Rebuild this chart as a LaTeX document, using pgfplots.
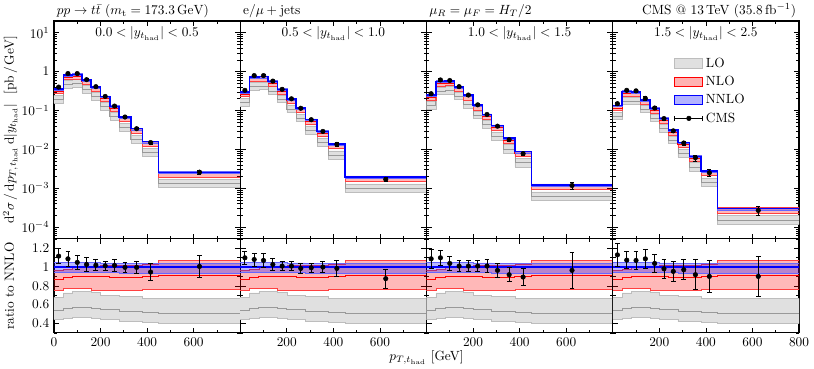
\documentclass[border=0pt]{standalone}
\usepackage{pgfplots}
\pgfplotsset{compat=1.18}
\usepackage{pgfplotstable}

\definecolor{lofill}{gray}{0.88}
\definecolor{loedge}{gray}{0.74}
\definecolor{loline}{gray}{0.6}

\pgfplotsset{every axis/.append style={scale only axis, width=139.75pt,
    xmin=0, xmax=800,
    xtick={0,200,400,600,800}, minor xtick={100,300,500,700},
    tick align=inside,
    major tick length=4pt, minor tick length=2.2pt,
    tick style={black, line width=0.5pt},
    axis line style={line width=0.8pt},
    anchor=south west}}

% band outlines: upper edge forward, lower edge backward.
% n1..n4 = NNLO central value of the bin (one per |y| slice); lo, nl, nn = band edge as ratio to NNLO
\pgfplotstableread{
x    n1      n2      n3      n4      lo    nl    nn
0    0.358   0.300   0.248   0.133   0.68  0.97  1.05
40   0.358   0.300   0.248   0.133   0.68  0.97  1.05
40   0.818   0.731   0.555   0.307   0.725 0.98  1.05
80   0.818   0.731   0.555   0.307   0.725 0.98  1.05
80   0.848   0.738   0.568   0.299   0.74  1.00  1.05
120  0.848   0.738   0.568   0.299   0.74  1.00  1.05
120  0.603   0.554   0.406   0.188   0.74  1.00  1.05
160  0.603   0.554   0.406   0.188   0.74  1.00  1.05
160  0.402   0.346   0.247   0.112   0.73  1.00  1.05
200  0.402   0.346   0.247   0.112   0.73  1.00  1.05
200  0.227   0.198   0.138   0.0631  0.70  1.015 1.045
240  0.227   0.198   0.138   0.0631  0.70  1.015 1.045
240  0.128   0.116   0.0781  0.0314  0.70  1.015 1.045
280  0.128   0.116   0.0781  0.0314  0.70  1.015 1.045
280  0.0682  0.0584  0.0409  0.0150  0.685 1.02  1.04
330  0.0682  0.0584  0.0409  0.0150  0.685 1.02  1.04
330  0.0341  0.0290  0.0194  0.00664 0.685 1.02  1.04
380  0.0341  0.0290  0.0194  0.00664 0.685 1.02  1.04
380  0.0158  0.0137  0.00872 0.00277 0.665 1.035 1.04
450  0.0158  0.0137  0.00872 0.00277 0.665 1.035 1.04
450  0.00258 0.00194 0.00122 0.00030 0.665 1.07  1.04
800  0.00258 0.00194 0.00122 0.00030 0.665 1.07  1.04
800  0.00258 0.00194 0.00122 0.00030 0.40  0.765 0.93
450  0.00258 0.00194 0.00122 0.00030 0.40  0.765 0.93
450  0.0158  0.0137  0.00872 0.00277 0.41  0.76  0.935
380  0.0158  0.0137  0.00872 0.00277 0.41  0.76  0.935
380  0.0341  0.0290  0.0194  0.00664 0.42  0.755 0.935
330  0.0341  0.0290  0.0194  0.00664 0.42  0.755 0.935
330  0.0682  0.0584  0.0409  0.0150  0.42  0.755 0.935
280  0.0682  0.0584  0.0409  0.0150  0.42  0.755 0.935
280  0.128   0.116   0.0781  0.0314  0.445 0.755 0.94
240  0.128   0.116   0.0781  0.0314  0.445 0.755 0.94
240  0.227   0.198   0.138   0.0631  0.445 0.755 0.94
200  0.227   0.198   0.138   0.0631  0.445 0.755 0.94
200  0.402   0.346   0.247   0.112   0.46  0.755 0.94
160  0.402   0.346   0.247   0.112   0.46  0.755 0.94
160  0.603   0.554   0.406   0.188   0.47  0.77  0.94
120  0.603   0.554   0.406   0.188   0.47  0.77  0.94
120  0.848   0.738   0.568   0.299   0.47  0.77  0.94
80   0.848   0.738   0.568   0.299   0.47  0.77  0.94
80   0.818   0.731   0.555   0.307   0.46  0.77  0.94
40   0.818   0.731   0.555   0.307   0.46  0.77  0.94
40   0.358   0.300   0.248   0.133   0.44  0.755 0.94
0    0.358   0.300   0.248   0.133   0.44  0.755 0.94
}\outl

% central lines: bin left edges, NNLO value per slice, NLO and LO central as ratio to NNLO
\pgfplotstableread{
x    n1      n2      n3      n4      nloc  loc
0    0.358   0.300   0.248   0.133   0.87  0.54
40   0.818   0.731   0.555   0.307   0.885 0.56
80   0.848   0.738   0.568   0.299   0.898 0.575
120  0.603   0.554   0.406   0.188   0.905 0.575
160  0.402   0.346   0.247   0.112   0.905 0.565
200  0.227   0.198   0.138   0.0631  0.895 0.55
240  0.128   0.116   0.0781  0.0314  0.89  0.55
280  0.0682  0.0584  0.0409  0.0150  0.89  0.53
330  0.0341  0.0290  0.0194  0.00664 0.89  0.53
380  0.0158  0.0137  0.00872 0.00277 0.90  0.52
450  0.00258 0.00194 0.00122 0.00030 0.915 0.505
800  0.00258 0.00194 0.00122 0.00030 0.915 0.505
}\cent

% CMS data: bin centre, value, ratio to NNLO, error on ratio
\pgfplotstableread{
x   d       r     re
20  0.40    1.117 0.08
60  0.89    1.088 0.08
100 0.89    1.05  0.07
140 0.62    1.028 0.07
180 0.41    1.02  0.06
220 0.23    1.014 0.05
260 0.13    1.018 0.06
305 0.068   0.997 0.05
355 0.034   0.997 0.06
415 0.015   0.947 0.09
625 0.0026  1.007 0.12
}\dA
\pgfplotstableread{
x   d       r     re
20  0.33    1.099 0.07
60  0.79    1.081 0.07
100 0.79    1.071 0.07
140 0.57    1.028 0.06
180 0.35    1.011 0.05
220 0.20    1.011 0.05
260 0.114   0.986 0.05
305 0.058   0.993 0.05
355 0.029   1.0   0.06
415 0.0135  0.986 0.09
625 0.0017  0.877 0.10
}\dB
\pgfplotstableread{
x   d       r     re
20  0.27    1.088 0.10
60  0.61    1.099 0.08
100 0.59    1.039 0.07
140 0.41    1.011 0.06
180 0.25    1.011 0.06
220 0.14    1.011 0.06
260 0.079   1.011 0.07
305 0.0395  0.965 0.07
355 0.0178  0.919 0.075
415 0.0078  0.894 0.09
625 0.00118 0.965 0.19
}\dC
\pgfplotstableread{
x   d       r     re
20  0.15    1.13  0.12
60  0.33    1.074 0.09
100 0.32    1.071 0.095
140 0.205   1.088 0.105
180 0.116   1.039 0.10
220 0.062   0.982 0.10
260 0.030   0.954 0.105
305 0.0146  0.972 0.105
355 0.0061  0.919 0.16
415 0.0025  0.901 0.17
625 0.00027 0.901 0.21
}\dD

% #1 = scale prefix (\thisrow{n1}* in main panels, 1* in ratio panels)
\newcommand{\theory}[1]{%
  \addplot[fill=lofill, draw=loedge, line width=0.4pt, forget plot] table[x=x, y expr={#1\thisrow{lo}}] {\outl};
  \addplot[const plot, draw=loline, line width=0.6pt, forget plot] table[x=x, y expr={#1\thisrow{loc}}] {\cent};
  \addplot[fill=red, fill opacity=0.28, draw=red!75, line width=0.4pt, forget plot] table[x=x, y expr={#1\thisrow{nl}}] {\outl};
  \addplot[const plot, draw=red, line width=0.7pt, forget plot] table[x=x, y expr={#1\thisrow{nloc}}] {\cent};
  \addplot[fill=blue, fill opacity=0.28, draw=blue!60, line width=0.4pt, forget plot] table[x=x, y expr={#1\thisrow{nn}}] {\outl};
  \addplot[const plot, draw=blue, line width=1.1pt, forget plot] table[x=x, y expr={#1 1}] {\cent};
}
\newcommand{\dataM}[1]{\addplot[black, only marks, mark=*, mark size=1.7pt, forget plot,
  error bars/.cd, y dir=both, y explicit, error bar style={black, line width=0.6pt},
  error mark options={black, rotate=90, mark size=1.5pt, line width=0.6pt}]
  table[x=x, y=d, y error expr={\thisrow{d}*\thisrow{re}/\thisrow{r}}] {#1};}
\newcommand{\dataR}[1]{\addplot[black, only marks, mark=*, mark size=1.7pt, forget plot,
  error bars/.cd, y dir=both, y explicit, error bar style={black, line width=0.6pt},
  error mark options={black, rotate=90, mark size=1.8pt, line width=0.6pt}]
  table[x=x, y=r, y error=re] {#1};}
\newcommand{\binlabel}[1]{\node[anchor=base, yshift=-12pt] at (rel axis cs:0.5,1) {#1};}

\begin{document}
\begin{tikzpicture}
% ---------- main row ----------
\begin{axis}[at={(0pt,70.5pt)}, ymode=log, ymin=5e-5, ymax=20, height=163.5pt, xticklabels={},
  ytick={1e-4,1e-3,1e-2,1e-1,1,10},
  minor ytick={6e-5,7e-5,8e-5,9e-5,2e-4,3e-4,4e-4,5e-4,6e-4,7e-4,8e-4,9e-4,2e-3,3e-3,4e-3,5e-3,6e-3,7e-3,8e-3,9e-3,2e-2,3e-2,4e-2,5e-2,6e-2,7e-2,8e-2,9e-2,0.2,0.3,0.4,0.5,0.6,0.7,0.8,0.9,2,3,4,5,6,7,8,9,20},
  yticklabels={$10^{-4}$,$10^{-3}$,$10^{-2}$,$10^{-1}$,$1$,$10^{1}$},
  title={$pp\to t\bar{t}$ ($m_{\mathrm{t}}=173.3\,\mathrm{GeV}$)},
  title style={at={(0,1)}, anchor=south west, inner sep=2pt, yshift=-6pt},
  ylabel={$\mathrm{d}^2\sigma\,/\,\mathrm{d}p_{T,t_{\mathrm{had}}}\,\mathrm{d}|y_{t_{\mathrm{had}}}|$ \ [pb\,/\,GeV]},
  ylabel style={at={(axis description cs:-0.215,0.5)}, anchor=base}]
\theory{\thisrow{n1}*}
\dataM{\dA}
\binlabel{$0.0<|y_{t_{\mathrm{had}}}|<0.5$}
\end{axis}

\begin{axis}[at={(139.75pt,70.5pt)}, ymode=log, ymin=5e-5, ymax=20, height=163.5pt, xticklabels={},
  ytick={1e-4,1e-3,1e-2,1e-1,1,10},
  minor ytick={6e-5,7e-5,8e-5,9e-5,2e-4,3e-4,4e-4,5e-4,6e-4,7e-4,8e-4,9e-4,2e-3,3e-3,4e-3,5e-3,6e-3,7e-3,8e-3,9e-3,2e-2,3e-2,4e-2,5e-2,6e-2,7e-2,8e-2,9e-2,0.2,0.3,0.4,0.5,0.6,0.7,0.8,0.9,2,3,4,5,6,7,8,9,20},
  yticklabels={},
  title={$\mathrm{e}/\mu+\mathrm{jets}$},
  title style={at={(0,1)}, anchor=south west, inner sep=2pt, yshift=-6pt}]
\theory{\thisrow{n2}*}
\dataM{\dB}
\binlabel{$0.5<|y_{t_{\mathrm{had}}}|<1.0$}
\end{axis}

\begin{axis}[at={(279.5pt,70.5pt)}, ymode=log, ymin=5e-5, ymax=20, height=163.5pt, xticklabels={},
  ytick={1e-4,1e-3,1e-2,1e-1,1,10},
  minor ytick={6e-5,7e-5,8e-5,9e-5,2e-4,3e-4,4e-4,5e-4,6e-4,7e-4,8e-4,9e-4,2e-3,3e-3,4e-3,5e-3,6e-3,7e-3,8e-3,9e-3,2e-2,3e-2,4e-2,5e-2,6e-2,7e-2,8e-2,9e-2,0.2,0.3,0.4,0.5,0.6,0.7,0.8,0.9,2,3,4,5,6,7,8,9,20},
  yticklabels={},
  title={$\mu_R=\mu_F=H_T/2$},
  title style={at={(0,1)}, anchor=south west, inner sep=2pt, yshift=-6pt}]
\theory{\thisrow{n3}*}
\dataM{\dC}
\binlabel{$1.0<|y_{t_{\mathrm{had}}}|<1.5$}
\end{axis}

\begin{axis}[at={(419.25pt,70.5pt)}, ymode=log, ymin=5e-5, ymax=20, height=163.5pt, xticklabels={},
  ytick={1e-4,1e-3,1e-2,1e-1,1,10},
  minor ytick={6e-5,7e-5,8e-5,9e-5,2e-4,3e-4,4e-4,5e-4,6e-4,7e-4,8e-4,9e-4,2e-3,3e-3,4e-3,5e-3,6e-3,7e-3,8e-3,9e-3,2e-2,3e-2,4e-2,5e-2,6e-2,7e-2,8e-2,9e-2,0.2,0.3,0.4,0.5,0.6,0.7,0.8,0.9,2,3,4,5,6,7,8,9,20},
  yticklabels={},
  title={CMS @ 13\,TeV (35.8\,fb$^{-1}$)},
  title style={at={(1,1)}, anchor=south east, inner sep=2pt, yshift=-6pt},
  legend style={draw=none, fill=none, at={(0.33,0.845)}, anchor=north west,
    inner sep=0pt, row sep=1.2pt, nodes={inner sep=2pt}},
  legend cell align=left]
\theory{\thisrow{n4}*}
\dataM{\dD}
\binlabel{$1.5<|y_{t_{\mathrm{had}}}|<2.5$}
\addlegendimage{legend image code/.code={\draw[fill=lofill, draw=loedge, line width=0.6pt] (0pt,-3.5pt) rectangle (21pt,3.5pt);}}
\addlegendentry{LO}
\addlegendimage{legend image code/.code={\draw[fill=red!30, draw=red, line width=0.6pt] (0pt,-3.5pt) rectangle (21pt,3.5pt);}}
\addlegendentry{NLO}
\addlegendimage{legend image code/.code={\draw[fill=blue!30, draw=blue, line width=0.6pt] (0pt,-3.5pt) rectangle (21pt,3.5pt);}}
\addlegendentry{NNLO}
\addlegendimage{legend image code/.code={\draw[black, line width=0.6pt] (0pt,0pt) -- (21pt,0pt); \draw[black, line width=0.6pt] (0pt,-1.8pt) -- (0pt,1.8pt) (21pt,-1.8pt) -- (21pt,1.8pt); \fill[black] (10.5pt,0pt) circle (1.7pt);}}
\addlegendentry{CMS}
\end{axis}

% ---------- ratio row ----------
\begin{axis}[at={(0pt,0pt)}, ymin=0.3, ymax=1.3, height=70.5pt,
  ytick={0.4,0.6,0.8,1,1.2}, minor ytick={0.3,0.5,0.7,0.9,1.1,1.3},
  yticklabels={$0.4$,$0.6$,$0.8$,$1$,$1.2$},
  xticklabels={$0$,$200$,$400$,$600$,},
  ylabel={ratio to NNLO},
  ylabel style={at={(axis description cs:-0.215,0.5)}, anchor=base}]
\theory{1*}
\dataR{\dA}
\end{axis}

\begin{axis}[at={(139.75pt,0pt)}, ymin=0.3, ymax=1.3, height=70.5pt,
  ytick={0.4,0.6,0.8,1,1.2}, minor ytick={0.3,0.5,0.7,0.9,1.1,1.3}, yticklabels={},
  xticklabels={,$200$,$400$,$600$,},
  xlabel={$p_{T,t_{\mathrm{had}}}$ [GeV]},
  xlabel style={at={(axis description cs:1,0)}, anchor=base, yshift=-21pt}]
\theory{1*}
\dataR{\dB}
\end{axis}

\begin{axis}[at={(279.5pt,0pt)}, ymin=0.3, ymax=1.3, height=70.5pt,
  ytick={0.4,0.6,0.8,1,1.2}, minor ytick={0.3,0.5,0.7,0.9,1.1,1.3}, yticklabels={},
  xticklabels={,$200$,$400$,$600$,}]
\theory{1*}
\dataR{\dC}
\end{axis}

\begin{axis}[at={(419.25pt,0pt)}, ymin=0.3, ymax=1.3, height=70.5pt,
  ytick={0.4,0.6,0.8,1,1.2}, minor ytick={0.3,0.5,0.7,0.9,1.1,1.3}, yticklabels={},
  xticklabels={,$200$,$400$,$600$,$800$}]
\theory{1*}
\dataR{\dD}
\end{axis}
\pgfresetboundingbox
\path[use as bounding box] (-40.5pt,-26.5pt) rectangle (570.25pt,249.75pt);
\end{tikzpicture}
\end{document}
